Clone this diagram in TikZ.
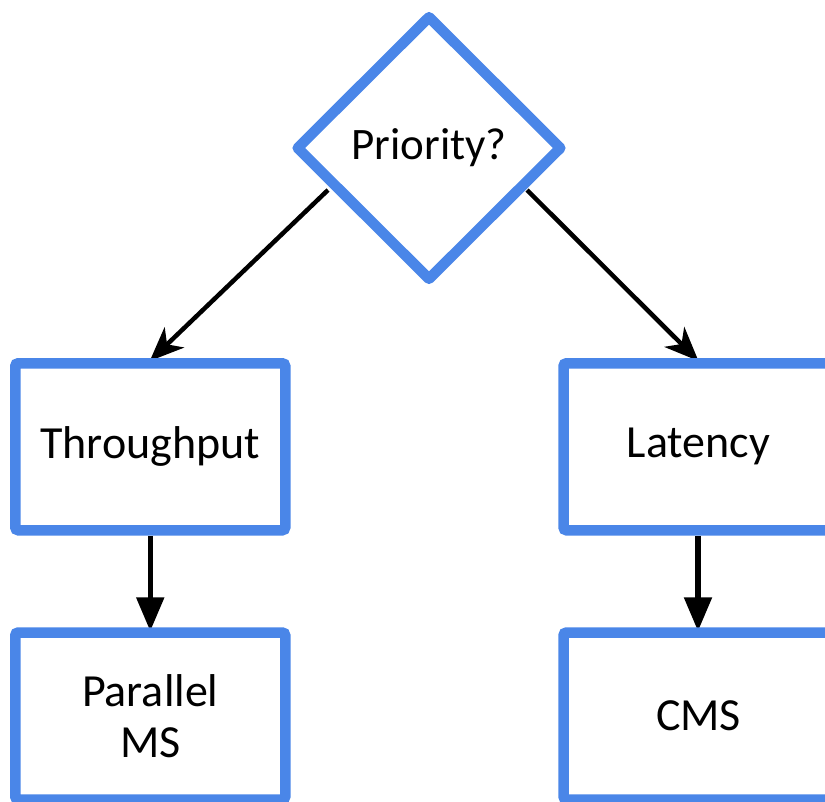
\documentclass[tikz,border=0pt]{standalone}
\usepackage{fontspec}
\setmainfont{Carlito}
\usetikzlibrary{shapes.geometric,arrows.meta}
\definecolor{boxblue}{HTML}{4A86E8}
\pgfdeclarelayer{bg}
\pgfsetlayers{bg,main}
\begin{document}
\begin{tikzpicture}[x=1pt,y=-1pt,
  box/.style={draw=boxblue,line width=10.5pt,fill=white,rounded corners=3pt,
    minimum width=270pt,minimum height=167pt,inner sep=0pt,align=center,
    font=\fontsize{46}{51}\selectfont},
  dia/.style={draw=boxblue,line width=10.5pt,fill=white,diamond,line join=round,
    minimum width=267pt,minimum height=266pt,inner sep=0pt,
    font=\fontsize{45}{51}\selectfont},
  diagarr/.style={line width=4.5pt,-{Stealth[length=34pt,width=28pt,inset=10pt]}},
  vertarr/.style={line width=5.5pt,-{Triangle[length=34pt,width=27pt]}}]
\useasboundingbox (0,0) rectangle (825,801);
\clip (0,0) rectangle (825,801);
\node[dia] (d) at (429,148) {Priority?};
\node[box] (tl) at (150.25,446.75) {Throughput};
\node[box] (tr) at (698.5,446.75) {Latency};
\node[box] (bl) at (150.25,716) {Parallel\\MS};
\node[box] (br) at (698.5,716) {CMS};
\coordinate (a1) at (328,190);
\coordinate (a2) at (527,190);
\begin{pgfonlayer}{bg}
\draw[diagarr] (a1) -- ([xshift=-0.5pt,yshift=-3pt]tl.north);
\draw[diagarr] (a2) -- ([xshift=0pt,yshift=-3pt]tr.north);
\draw[vertarr] (tl.south) -- ([yshift=-4pt]bl.north);
\draw[vertarr] ([xshift=-0.5pt]tr.south) -- ([xshift=-0.5pt,yshift=-4pt]br.north);
\end{pgfonlayer}
\end{tikzpicture}
\end{document}
